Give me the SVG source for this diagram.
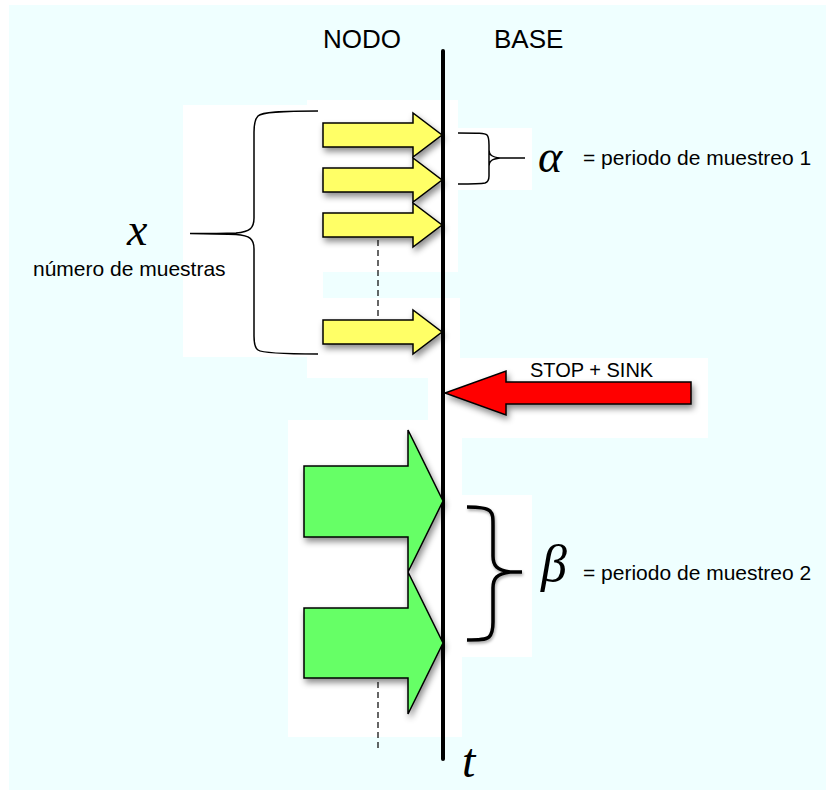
<svg xmlns="http://www.w3.org/2000/svg" width="826" height="790" viewBox="0 0 826 790">
<defs>
<filter id="sh" x="-20%" y="-20%" width="150%" height="160%">
<feDropShadow dx="2" dy="4" stdDeviation="3" flood-color="#000" flood-opacity="0.45"/>
</filter>
<filter id="shs" x="-20%" y="-20%" width="150%" height="160%">
<feDropShadow dx="1" dy="2" stdDeviation="1.5" flood-color="#000" flood-opacity="0.35"/>
</filter>
</defs>
<style>
.lbl{font-family:"Liberation Sans",Arial,sans-serif;fill:#000}
.math{font-family:"Liberation Serif","Times New Roman",serif;font-style:italic;fill:#000}
.yel{fill:#FFFF66;stroke:#000;stroke-width:1.5;stroke-linejoin:miter}
.grn{fill:#66FF66;stroke:#000;stroke-width:1.5}
.red{fill:#FF0000;stroke:#000;stroke-width:1.5}
.brace{fill:none;stroke:#000;stroke-width:1.5}
.dash{stroke:#000;stroke-width:1.2;stroke-dasharray:6 4}
.wh{fill:#fff}
</style>
<rect x="0" y="0" width="826" height="790" fill="#fff"/>
<rect x="9" y="5" width="817" height="785" fill="#EFFFFF"/>
<g id="backdrops">
<rect class="wh" x="183" y="105" width="140" height="252"/>
<rect class="wh" x="307" y="100" width="151" height="172"/>
<rect class="wh" x="307" y="298" width="153" height="80"/>
<rect class="wh" x="458" y="128" width="74" height="62"/>
<rect class="wh" x="428" y="358" width="280" height="80"/>
<rect class="wh" x="288" y="420" width="174" height="317"/>
<rect class="wh" x="462" y="495" width="70" height="162"/>
</g>
<g id="headers">
<text class="lbl" x="323" y="48" font-size="26">NODO</text>
<text class="lbl" x="494" y="48" font-size="26">BASE</text>
</g>
<g id="connectors">
<line x1="443" y1="51" x2="443" y2="759" stroke="#000" stroke-width="4" stroke-linecap="round"/>
<line class="dash" x1="378" y1="240" x2="378" y2="320"/>
<line class="dash" x1="378" y1="682" x2="378" y2="748"/>
</g>
<g id="yellow-arrows" filter="url(#sh)">
<path class="yel" d="M323,123 H413 V113 L442,135 L413,157 V147 H323 Z"/>
<path class="yel" d="M323,168 H413 V158 L442,180 L413,202 V192 H323 Z"/>
<path class="yel" d="M323,213 H413 V203 L442,225 L413,247 V237 H323 Z"/>
<path class="yel" d="M323,320 H413 V310 L442,332 L413,354 V344 H323 Z"/>
</g>
<g id="x-brace">
<path class="brace" d="M318,111 C280,111 262,112 258,116 C255,119 254,124 254,132 V218 C254,228 250,232 236,233 C220,233.5 200,233.5 190,233.5 C200,233.5 220,234 236,234.5 C250,235.5 254,239 254,249 V336 C254,344 255,348 258,350 C262,353 280,354 318,354"/>
<text class="math" x="127" y="245" font-size="46">x</text>
<text class="lbl" x="33" y="276" font-size="21">número de muestras</text>
</g>
<g id="alpha">
<path class="brace" d="M458,133 C478,133 485,133 487,135 C489,137 489,140 489,145 V150 C489,155 492,157 500,158 L525,158 M489,145 V166 C489,161 492,159 500,158 M489,166 V176 C489,180 488,182 485,183 C480,184 470,184 458,184"/>
<text class="math" x="538" y="172" font-size="46">α</text>
<text class="lbl" x="583" y="165" font-size="21">= periodo de muestreo 1</text>
</g>
<g id="stop-sink">
<path class="red" filter="url(#sh)" d="M691,382 H506 V371 L445,393 L506,415 V404 H691 Z"/>
<text class="lbl" x="530" y="377" font-size="20">STOP + SINK</text>
</g>
<g id="green-arrows" filter="url(#sh)">
<path class="grn" d="M304,466 H408 V430 L443,501 L408,572 V537 H304 Z"/>
<path class="grn" d="M304,608 H408 V572 L443,643 L408,714 V678 H304 Z"/>
</g>
<g id="beta">
<path filter="url(#shs)" fill="none" stroke="#000" stroke-width="3.5" d="M467,507 C480,507 487,508 490,511 C493,514 493,518 493,525 V556 C493,566 497,570 510,572 L522,572 M510,572 C497,574 493,578 493,588 V622 C493,630 492,634 489,637 C486,640 478,640 467,640"/>
<text class="math" x="541" y="581" font-size="52">β</text>
<text class="lbl" x="583" y="580" font-size="21">= periodo de muestreo 2</text>
</g>
<g id="time-label">
<text class="math" x="462" y="777" font-size="48">t</text>
</g>
</svg>
